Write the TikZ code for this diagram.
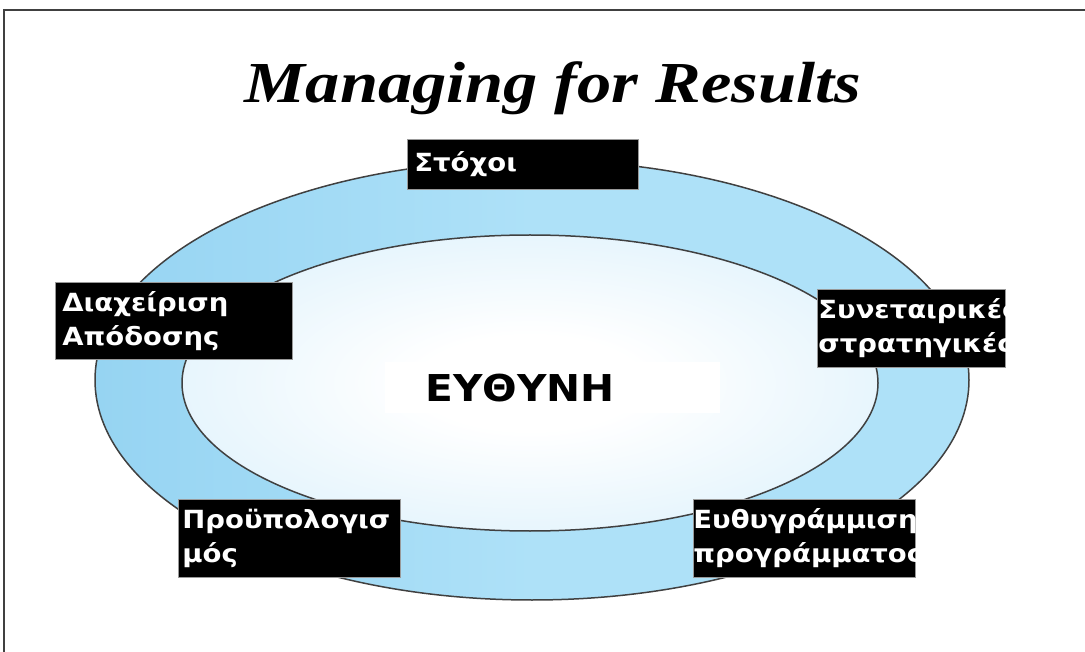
\documentclass[tikz,border=0pt]{standalone}
\usepackage{fontspec}
\usetikzlibrary{shapes.geometric}
\newfontfamily\boxfont[FakeStretch=1.1]{DejaVu Sans}
\newfontfamily\titlefont[FakeStretch=1.18]{Liberation Serif}
\definecolor{ringblue}{RGB}{174,225,248}
\definecolor{ringdark}{RGB}{150,212,242}
\definecolor{coreblue}{RGB}{196,231,249}
\pgfdeclareradialshading{coreglow}{\pgfpoint{0bp}{0bp}}{color(0bp)=(white); color(8bp)=(white); color(50bp)=(coreblue); color(75bp)=(coreblue)}

\begin{document}
\begin{tikzpicture}[x=1pt, y=-1pt,
            oval/.style = {ellipse,draw=black!75,line width=1.5pt},
            box/.style = {fill=black,draw=black!40,line width=0.8pt,text=white,
                font=\boxfont\bfseries\fontsize{25}{34}\selectfont,
                anchor=north west,align=left,inner ysep=0pt}]
            \useasboundingbox (0,0) rectangle (1085,652);
            \draw[line width=2.5pt,black!75] (4,652) |- (1085,10);
            % the two rings
            \node[oval,minimum width=874pt,minimum height=440pt,
                left color=ringdark,right color=ringblue,middle color=ringblue] (ring) at (532,380) {};
            \node[oval,minimum width=696pt,minimum height=296pt,shading=coreglow] (core) at (530,383) {};
            \node[font=\titlefont\bfseries\itshape\fontsize{58}{64}\selectfont,anchor=base] (title) at (553,103) {Managing for Results};
            \node[fill=white,anchor=north west,text width=255pt,minimum height=51pt,inner xsep=40pt,inner ysep=0pt,
                align=left,font=\boxfont\bfseries\fontsize{37}{40}\selectfont] (duty) at (385,362) {ΕΥΘΥΝΗ};
            % labels round the ring
            \node[box,inner xsep=7pt,text width=217pt,minimum height=50pt] (goals) at (407,139) {Στόχοι};
            \node[box,inner xsep=7pt,text width=223pt,minimum height=77pt] (perf) at (55,282) {Διαχείριση\\Απόδοσης};
            \node[box,inner xsep=1pt,text width=186pt,minimum height=78pt] (strat) at (817,289) {Συνεταιρικές\\στρατηγικές};
            \node[box,inner xsep=4pt,text width=214pt,minimum height=78pt] (budget) at (178,499) {Προϋπολογισ\\μός};
            \node[box,inner xsep=0pt,text width=222pt,minimum height=78pt] (progalign) at (693,499) {Ευθυγράμμιση\\προγράμματος};
        \end{tikzpicture}
\end{document}
